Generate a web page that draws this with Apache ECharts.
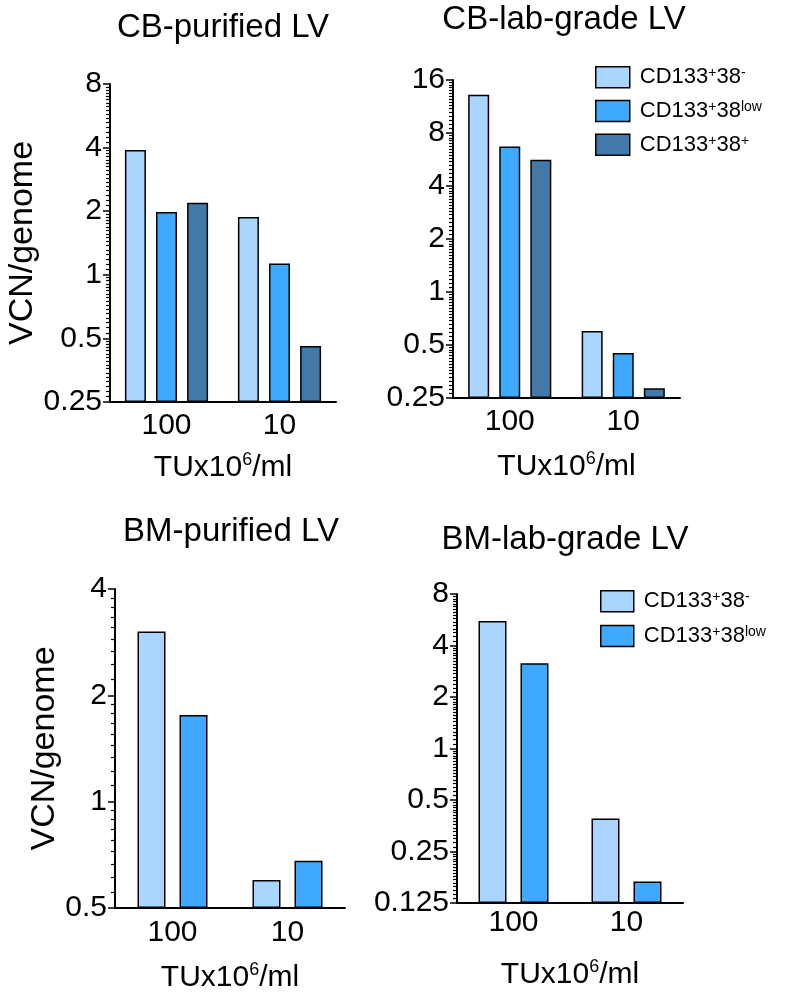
<!DOCTYPE html>
<html><head><meta charset="utf-8">
<script src="https://cdn.jsdelivr.net/npm/echarts@6/dist/echarts.min.js"></script>
<style>html,body{margin:0;padding:0;background:#fff}#c{width:796px;height:998px}</style>
</head><body><div id="c"></div>
<script>
// ---------- data ----------
const categories = ['100', '10'];
const seriesKeys = ['neg', 'low', 'pos'];
const cbPurNeg = [3.9, 1.88];
const cbPurLow = [1.98, 1.13];
const cbPurPos = [2.19, 0.46];
const cbLabNeg = [13.2, 0.6];
const cbLabLow = [6.7, 0.45];
const cbLabPos = [5.63, 0.284];
const bmPurNeg = [3.03, 0.6];
const bmPurLow = [1.76, 0.68];
const bmLabNeg = [5.56, 0.39];
const bmLabLow = [3.15, 0.167];
const cbPurTicks = [0.25, 0.5, 1, 2, 4, 8];
const cbLabTicks = [0.25, 0.5, 1, 2, 4, 8, 16];
const bmPurTicks = [0.5, 1, 2, 4];
const bmLabTicks = [0.125, 0.25, 0.5, 1, 2, 4, 8];
const titles = ['CB-purified LV', 'CB-lab-grade LV', 'BM-purified LV', 'BM-lab-grade LV'];
const yTitle = 'VCN/genome';

// ---------- style / layout ----------
const FONT = 'Liberation Sans, Arial, Helvetica, sans-serif';
const colors = ['#A9D5FE', '#3EA9FE', '#4279A9'];
const panels = [
  {grid: {left: 110, top: 84, width: 226, height: 318}, ticks: cbPurTicks, data: [cbPurNeg, cbPurLow, cbPurPos],
   minorN: 16, barWidth: 21, barGap: '48%', labelMargin: 9, nameGap: 49, yName: true, yNameGap: 64, title: [223, 28]},
  {grid: {left: 453, top: 80, width: 227, height: 318}, ticks: cbLabTicks, data: [cbLabNeg, cbLabLow, cbLabPos],
   minorN: 16, barWidth: 21, barGap: '48%', labelMargin: 9, nameGap: 52, yName: false, title: [564, 20]},
  {grid: {left: 115, top: 589, width: 230, height: 319}, ticks: bmPurTicks, data: [bmPurNeg, bmPurLow],
   minorN: 9, barWidth: 28, barGap: '50%', labelMargin: 10, nameGap: 53, yName: true, yNameGap: 44, title: [231, 532]},
  {grid: {left: 457, top: 594, width: 226, height: 309}, ticks: bmLabTicks, data: [bmLabNeg, bmLabLow],
   minorN: 16, barWidth: 28, barGap: '50%', labelMargin: 5, nameGap: 55, yName: false, title: [565, 540]}
];

const fmt = v => String(+v.toPrecision(6));
const richAxisName = {
  a: {fontSize: 30, fontFamily: FONT, color: '#000', lineHeight: 34},
  s: {fontSize: 18, fontFamily: FONT, color: '#000', lineHeight: 18, verticalAlign: 'top'}
};
const legendRich = {
  g: {width: 5},
  n: {fontSize: 22, fontFamily: FONT, color: '#000', lineHeight: 22},
  s: {fontSize: 14, fontFamily: FONT, color: '#000', lineHeight: 13, verticalAlign: 'top'}
};
const legendText = {
  neg: '{g|}{n|CD133}{s|+}{n|38}{s|-}',
  low: '{g|}{n|CD133}{s|+}{n|38}{s|low}',
  pos: '{g|}{n|CD133}{s|+}{n|38}{s|+}'
};

const grid = [], xAxis = [], yAxis = [], series = [], graphic = [];
panels.forEach((p, i) => {
  grid.push(p.grid);
  const base = p.ticks[0];
  const top = Math.log2(p.ticks[p.ticks.length - 1] / base);
  const minors = [];
  for (let t = 0; t < p.ticks.length - 1; t++) {
    const a = p.ticks[t];
    for (let k = 1; k < p.minorN; k++) minors.push(Math.log2((a + k * a / p.minorN) / base));
  }
  xAxis.push({
    type: 'category', gridIndex: i, data: categories,
    axisLine: {lineStyle: {color: '#000', width: 2}},
    axisTick: {alignWithLabel: true, length: 7, lineStyle: {color: '#000', width: 1.5}},
    axisLabel: {color: '#000', fontSize: 30, fontFamily: FONT, margin: p.labelMargin},
    name: '{a|TUx10}{s|6}{a|/ml}', nameLocation: 'middle', nameGap: p.nameGap,
    nameTextStyle: {rich: richAxisName}
  });
  yAxis.push({
    type: 'value', gridIndex: i, min: 0, max: top, interval: 1, position: 'left',
    axisLine: {show: true, lineStyle: {color: '#000', width: 2}},
    axisTick: {show: true, length: 7, lineStyle: {color: '#000', width: 1.5}},
    axisLabel: {color: '#000', fontSize: 30, fontFamily: FONT, margin: 8,
      formatter: v => fmt(base * Math.pow(2, v))},
    splitLine: {show: false},
    name: p.yName ? yTitle : '', nameLocation: 'middle', nameGap: p.yNameGap || 0,
    nameTextStyle: {fontSize: 34, fontFamily: FONT, color: '#000'}
  });
  yAxis.push({
    type: 'value', gridIndex: i, min: 0, max: top, position: 'left', offset: 0,
    axisLine: {show: false},
    axisTick: {show: true, length: 4, customValues: minors, lineStyle: {color: '#000', width: 1.2}},
    axisLabel: {show: false}, splitLine: {show: false}
  });
  p.data.forEach((arr, j) => {
    series.push({
      type: 'bar', name: seriesKeys[j], xAxisIndex: i, yAxisIndex: 2 * i,
      data: arr.map(v => Math.log2(v / base)),
      barWidth: p.barWidth, barGap: p.barGap,
      itemStyle: {color: colors[j], borderColor: '#000', borderWidth: 1.5},
      emphasis: {disabled: true}
    });
  });
  graphic.push({
    type: 'text', x: p.title[0], y: p.title[1],
    style: {text: titles[i], fontSize: 33, fontFamily: FONT, fill: '#000',
      align: 'center', verticalAlign: 'middle', textAlign: 'center', textVerticalAlign: 'middle'}
  });
});

const legendCommon = {
  orient: 'vertical', selectedMode: false, icon: 'rect',
  itemStyle: {borderColor: '#000', borderWidth: 1.5},
  formatter: n => legendText[n],
  textStyle: {rich: legendRich}
};

const option = {
  animation: false,
  backgroundColor: '#fff',
  grid, xAxis, yAxis, series, graphic,
  legend: [
    Object.assign({}, legendCommon, {left: 590, top: 61, itemWidth: 34, itemHeight: 21, itemGap: 11.3,
      data: ['neg', 'low', 'pos']}),
    Object.assign({}, legendCommon, {left: 595, top: 585, itemWidth: 33, itemHeight: 21, itemGap: 12.3,
      data: ['neg', 'low']})
  ]
};

const chart = echarts.init(document.getElementById('c'), null, {renderer: 'canvas'});
chart.setOption(option);
</script>
</body></html>
